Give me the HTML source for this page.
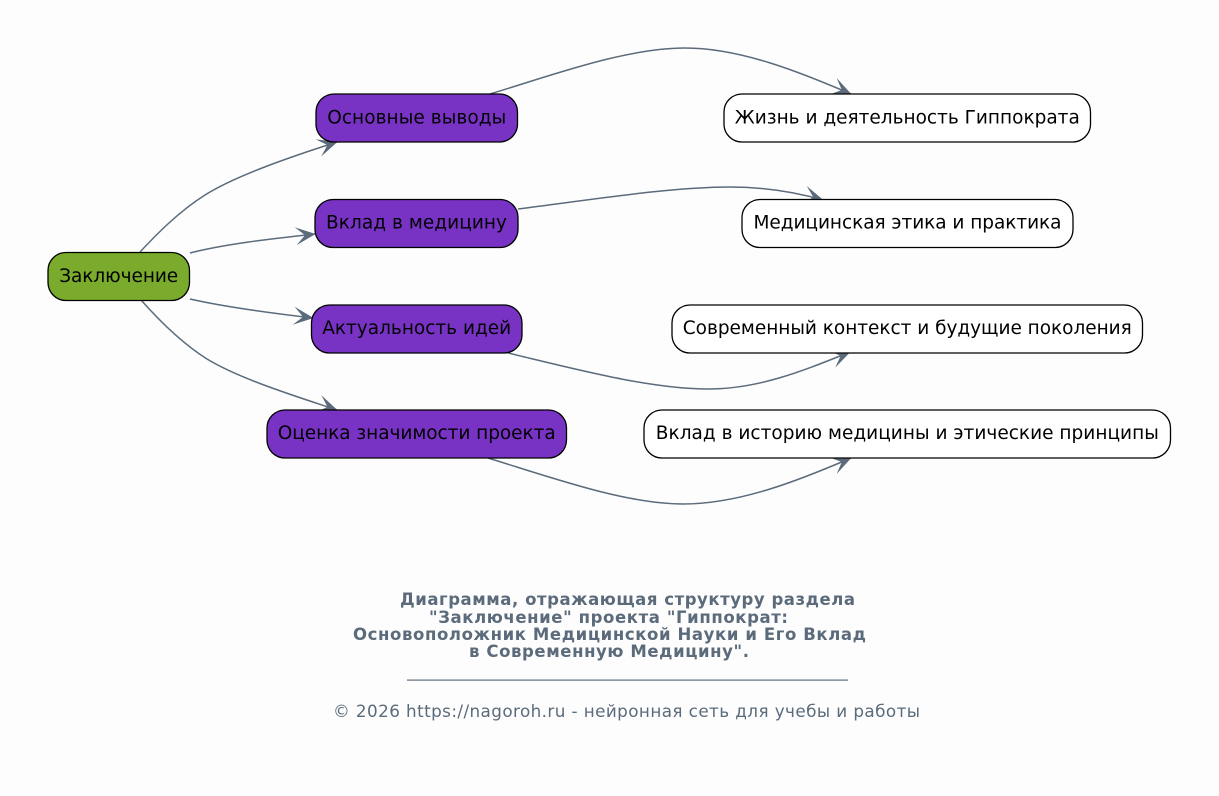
<!DOCTYPE html>
<html><head><meta charset="utf-8"><style>
html,body{margin:0;padding:0;background:#fdfdfd}
svg{display:block}
text{font-family:"DejaVu Sans",sans-serif}
.n{font-size:18.5px;fill:#000;text-anchor:middle}
.t{font-size:16.5px;font-weight:bold;fill:#5b6b7b;text-anchor:middle}
.e{fill:none;stroke:#5b6b7b;stroke-width:1.5;marker-end:url(#v)}
</style></head><body>
<svg width="1219" height="796" viewBox="0 0 1219 796" xmlns="http://www.w3.org/2000/svg">
<defs><marker id="v" markerUnits="userSpaceOnUse" markerWidth="26" markerHeight="26" refX="22" refY="13" orient="auto" viewBox="0 0 26 26"><path d="M22.500,13 L2.500,4 L12,13 L2.500,22 Z" fill="#5b6b7b"/></marker></defs>
<rect width="1219" height="796" fill="#fdfdfd"/>
<path class="e" d="M140,252 C155,236 178,212 205,195 C235,176 290,157 337,142"/>
<path class="e" d="M190,253 C225,244 270,239 315,234"/>
<path class="e" d="M190,299 C225,307 270,313 313,318"/>
<path class="e" d="M141,300 C157,318 180,342 207,359 C240,379 295,396 337,410"/>
<path class="e" d="M490,94 C550,76 625,48 685,48 C740,48 800,72 851,94"/>
<path class="e" d="M518,209 C590,200 670,187 730,187 C762,187 795,192 823,200"/>
<path class="e" d="M508,353 C575,369 650,389 708,389 C760,389 805,370 850,352"/>
<path class="e" d="M488,458 C550,477 625,504 683,504 C740,504 800,480 851,458"/>
<g stroke="#000" stroke-width="1.3">
<rect x="48" y="252.500" width="141.500" height="48" rx="18" fill="#7aab2d"/>
<rect x="316" y="94" width="201.500" height="48" rx="18" fill="#7833c4"/>
<rect x="315" y="199.500" width="203" height="48" rx="18" fill="#7833c4"/>
<rect x="311.500" y="305" width="210.500" height="48" rx="18" fill="#7833c4"/>
<rect x="267" y="410" width="299.500" height="48" rx="18" fill="#7833c4"/>
<rect x="724" y="94" width="366.500" height="48" rx="18" fill="#fff"/>
<rect x="742" y="199.500" width="331" height="48" rx="18" fill="#fff"/>
<rect x="672" y="305" width="470.500" height="48" rx="18" fill="#fff"/>
<rect x="644" y="410" width="526.500" height="48" rx="18" fill="#fff"/>
</g>
<text class="n" x="118.700" y="282" textLength="119">Заключение</text>
<text class="n" x="416.700" y="123.500" textLength="179">Основные выводы</text>
<text class="n" x="416.500" y="228.500" textLength="181">Вклад в медицину</text>
<text class="n" x="416.700" y="334" textLength="189">Актуальность идей</text>
<text class="n" x="416.700" y="439" textLength="278">Оценка значимости проекта</text>
<text class="n" x="907.300" y="123.500" textLength="345">Жизнь и деятельность Гиппократа</text>
<text class="n" x="907.500" y="228.500" textLength="308">Медицинская этика и практика</text>
<text class="n" x="907.300" y="334" textLength="449">Современный контекст и будущие поколения</text>
<text class="n" x="907.300" y="439" textLength="503">Вклад в историю медицины и этические принципы</text>
<text class="t" x="627.500" y="605" textLength="455">Диаграмма, отражающая структуру раздела</text>
<text class="t" x="608.500" y="623" textLength="359">"Заключение" проекта "Гиппократ:</text>
<text class="t" x="609.500" y="640" textLength="513">Основоположник Медицинской Науки и Его Вклад</text>
<text class="t" x="609" y="657" textLength="280">в Современную Медицину".</text>
<rect x="407" y="679.500" width="441" height="1.200" fill="#5b6b7b"/>
<text x="626.500" y="717" text-anchor="middle" font-size="16.800" fill="#5b6b7b" textLength="587">© 2026 https://nagoroh.ru - нейронная сеть для учебы и работы</text>
</svg>
</body></html>
